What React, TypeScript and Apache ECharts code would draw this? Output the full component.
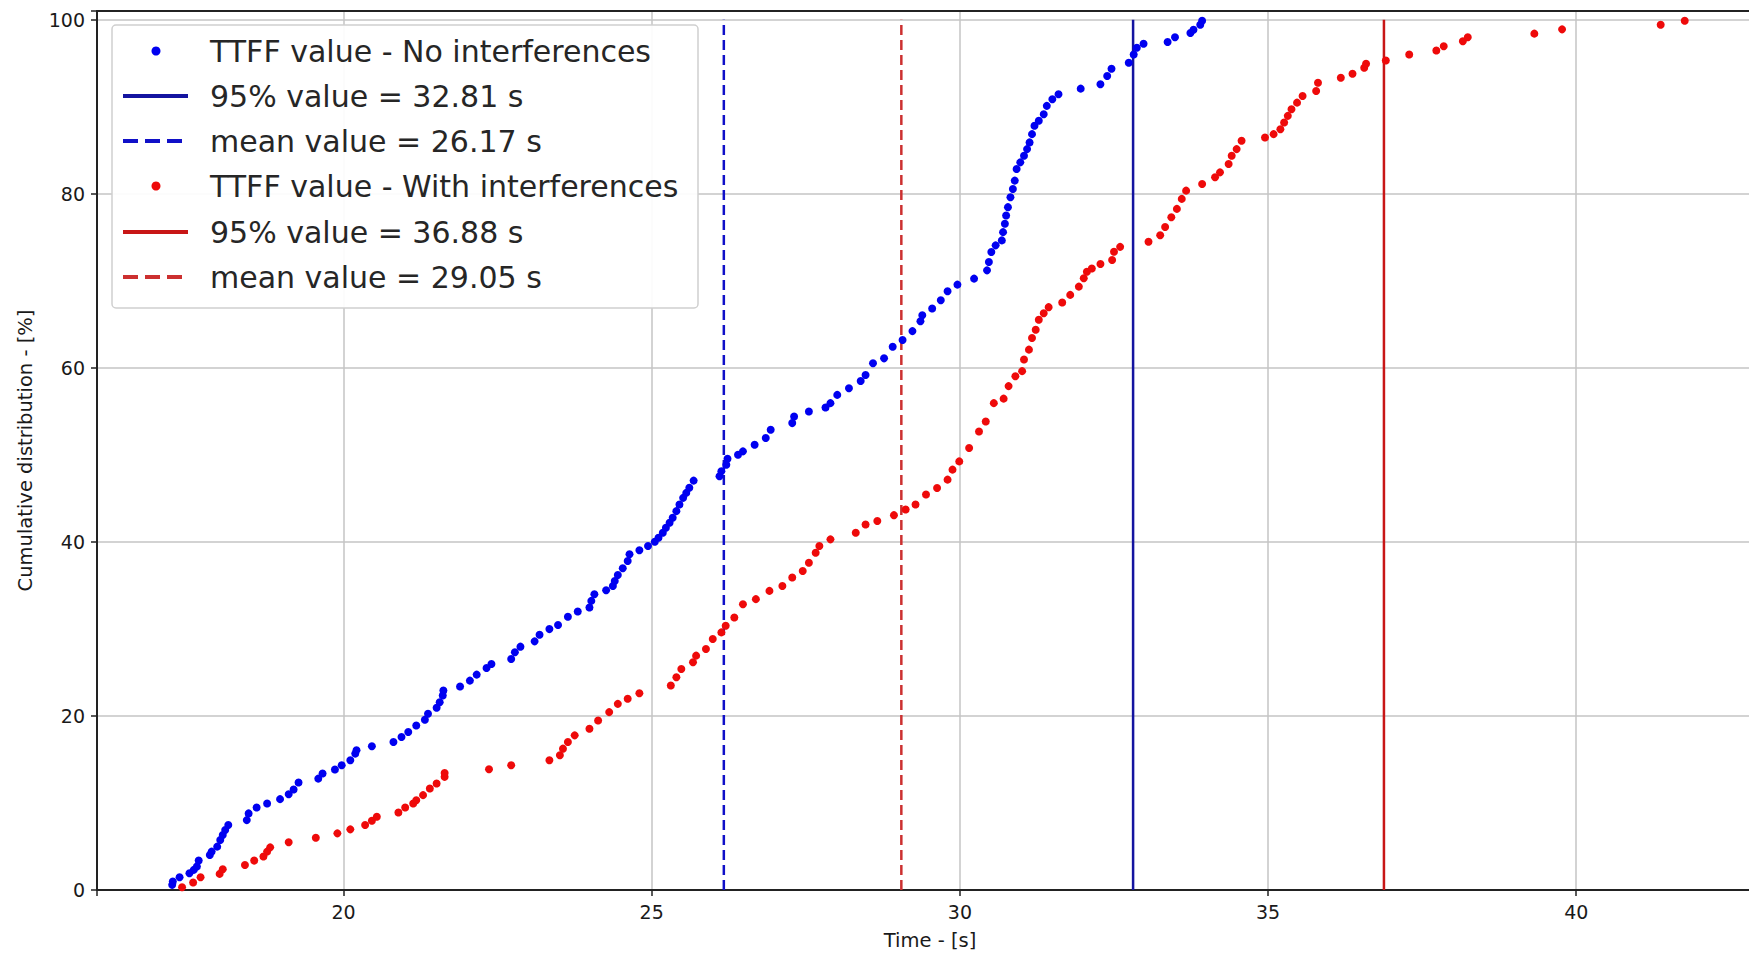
import React, { useEffect, useRef } from "react";
import * as echarts from "echarts";

// ---- Data (time in s, cumulative %) ----
const blueTimes = [
  17.22, 17.23, 17.34, 17.5, 17.57, 17.62, 17.65, 17.83, 17.86, 17.95, 18.0, 18.04, 18.08, 18.13,
  18.43, 18.46, 18.59, 18.76, 18.97, 19.11, 19.19, 19.27, 19.59, 19.66, 19.86, 19.97, 20.11, 20.19,
  20.21, 20.46, 20.81, 20.94, 21.05, 21.18, 21.32, 21.37, 21.51, 21.56, 21.61, 21.62, 21.89, 22.05,
  22.16, 22.32, 22.4, 22.72, 22.78, 22.87, 23.1, 23.18, 23.34, 23.48, 23.64, 23.8, 23.99, 24.02,
  24.07, 24.26, 24.37, 24.4, 24.45, 24.53, 24.61, 24.64, 24.8, 24.94, 25.05, 25.11, 25.18, 25.23,
  25.29, 25.34, 25.4, 25.45, 25.51, 25.56, 25.61, 25.68, 26.1, 26.13, 26.21, 26.23, 26.4, 26.48,
  26.67, 26.85, 26.93, 27.28, 27.31, 27.55, 27.82, 27.9, 28.01, 28.2, 28.39, 28.47, 28.59, 28.77,
  28.91, 29.07, 29.23, 29.36, 29.39, 29.55, 29.69, 29.8, 29.96, 30.23, 30.44, 30.47, 30.51, 30.58,
  30.68, 30.7, 30.73, 30.75, 30.78, 30.82, 30.86, 30.89, 30.92, 30.98, 31.04, 31.09, 31.13, 31.17,
  31.21, 31.28, 31.36, 31.41, 31.5, 31.6, 31.96, 32.28, 32.39, 32.46, 32.74, 32.82, 32.87, 32.98,
  33.37, 33.49, 33.74, 33.79, 33.9, 33.93,
];
const blueCdf = [
  0.59, 0.97, 1.47, 1.93, 2.31, 2.69, 3.38, 4.03, 4.41, 4.98, 5.74, 6.32, 6.89, 7.46,
  8.03, 8.8, 9.48, 9.94, 10.44, 11.01, 11.55, 12.35, 12.8, 13.38, 13.84, 14.33, 14.91, 15.67,
  16.05, 16.51, 17.01, 17.58, 18.15, 18.91, 19.56, 20.25, 20.94, 21.58, 22.35, 22.92, 23.38, 24.06,
  24.75, 25.51, 25.97, 26.55, 27.31, 27.96, 28.57, 29.33, 29.98, 30.44, 31.39, 32.0, 32.46, 33.22,
  33.99, 34.44, 34.94, 35.51, 36.2, 36.97, 37.81, 38.57, 39.03, 39.52, 40.02, 40.48, 41.05, 41.62,
  42.2, 42.77, 43.53, 44.29, 45.06, 45.63, 46.21, 47.04, 47.54, 48.11, 48.87, 49.56, 50.02, 50.4,
  51.16, 51.93, 52.88, 53.65, 54.41, 54.98, 55.44, 55.94, 56.89, 57.65, 58.49, 59.18, 60.52, 61.09,
  62.43, 63.19, 64.22, 65.36, 66.05, 66.81, 67.77, 68.8, 69.56, 70.25, 71.2, 72.16, 73.3, 74.07,
  74.64, 75.59, 76.55, 77.5, 78.46, 79.6, 80.55, 81.51, 82.85, 83.61, 84.37, 85.13, 85.9, 86.85,
  87.81, 88.38, 89.14, 90.1, 90.86, 91.43, 92.08, 92.58, 93.53, 94.37, 95.06, 96.01, 96.78, 97.23,
  97.44, 97.98, 98.47, 98.85, 99.42, 99.88,
];
const redTimes = [
  17.38, 17.56, 17.68, 17.99, 18.04, 18.4, 18.55, 18.7, 18.76, 18.81, 19.11, 19.55, 19.9, 20.11,
  20.35, 20.46, 20.54, 20.89, 21.0, 21.13, 21.18, 21.29, 21.4, 21.51, 21.64, 21.64, 22.36, 22.72,
  23.34, 23.51, 23.56, 23.64, 23.75, 23.99, 24.13, 24.31, 24.45, 24.61, 24.8, 25.31, 25.4, 25.48,
  25.67, 25.72, 25.88, 25.99, 26.13, 26.2, 26.34, 26.48, 26.69, 26.91, 27.12, 27.28, 27.45, 27.55,
  27.66, 27.72, 27.9, 28.31, 28.47, 28.66, 28.93, 29.12, 29.28, 29.45, 29.63, 29.8, 29.88, 29.99,
  30.15, 30.31, 30.42, 30.55, 30.71, 30.79, 30.9, 31.01, 31.04, 31.12, 31.17, 31.23, 31.28, 31.36,
  31.44, 31.66, 31.79, 31.93, 32.01, 32.06, 32.14, 32.28, 32.47, 32.5, 32.6, 33.06, 33.25, 33.33,
  33.43, 33.52, 33.6, 33.67, 33.93, 34.14, 34.22, 34.36, 34.41, 34.49, 34.57, 34.95, 35.09, 35.2,
  35.26, 35.32, 35.38, 35.47, 35.56, 35.78, 35.81, 36.18, 36.37, 36.56, 36.59, 36.91, 37.29, 37.73,
  37.85, 38.16, 38.24, 39.32, 39.77, 41.37, 41.76,
];
const redCdf = [
  0.32, 0.86, 1.47, 1.85, 2.39, 2.88, 3.38, 3.84, 4.41, 4.9, 5.48, 6.01, 6.51, 6.97,
  7.46, 7.96, 8.42, 8.91, 9.48, 9.94, 10.32, 10.9, 11.66, 12.23, 13.0, 13.45, 13.87, 14.33,
  14.9, 15.48, 16.24, 17.0, 17.77, 18.53, 19.48, 20.44, 21.39, 21.97, 22.61, 23.49, 24.45, 25.4,
  26.16, 26.93, 27.69, 28.84, 29.6, 30.36, 31.32, 32.84, 33.42, 34.37, 34.94, 35.9, 36.66, 37.61,
  38.76, 39.52, 40.29, 41.05, 42.0, 42.39, 43.07, 43.72, 44.29, 45.44, 46.2, 47.15, 48.3, 49.25,
  50.78, 52.69, 53.84, 55.94, 56.46, 57.9, 59.04, 59.62, 60.95, 62.09, 63.43, 64.38, 65.52, 66.28,
  66.97, 67.5, 68.38, 69.33, 70.29, 71.04, 71.42, 71.92, 72.38, 73.33, 73.9, 74.48, 75.24, 76.19,
  77.31, 78.26, 79.41, 80.36, 81.13, 81.89, 82.46, 83.42, 84.37, 85.13, 86.09, 86.47, 86.85, 87.42,
  88.19, 88.95, 89.71, 90.47, 91.24, 91.81, 92.76, 93.33, 93.79, 94.48, 94.93, 95.31, 96.0, 96.46,
  96.95, 97.52, 97.98, 98.4, 98.89, 99.42, 99.88,
];

const blueP95 = 32.81;
const blueMean = 26.17;
const redP95 = 36.88;
const redMean = 29.05;

const legendLabels = [
  "TTFF value - No interferences",
  `95% value = ${blueP95.toFixed(2)} s`,
  `mean value = ${blueMean.toFixed(2)} s`,
  "TTFF value - With interferences",
  `95% value = ${redP95.toFixed(2)} s`,
  `mean value = ${redMean.toFixed(2)} s`,
];

const X_MIN = 16.0;
const X_MAX = 43.03;
const Y_MIN = 0;
const Y_MAX = 101;

const FONT = "DejaVu Sans";
const TEXT = "#1a1a1a";

const C_BLUE_PTS = "#0000f0";
const C_RED_PTS = "#ee0a0a";
const C_BLUE_95 = "#1414a0";
const C_BLUE_MEAN = "#1010c8";
const C_RED_95 = "#c81616";
const C_RED_MEAN = "#cc3030";

function zip(xs: number[], ys: number[]) {
  return xs.map((x, i) => [x, ys[i]]);
}

function vline(v: number) {
  return [
    [v, 0],
    [v, 100],
  ];
}

export default function App() {
  const ref = useRef<HTMLDivElement>(null);

  useEffect(() => {
    if (!ref.current) return;
    const chart = echarts.init(ref.current, undefined, { renderer: "svg" });

    const lx1 = 123;
    const lx2 = 188;
    const rowY = [51, 96, 141, 186, 232, 277];
    const textX = 210;

    const legendGraphic: any[] = [
      {
        type: "rect",
        shape: { x: 112, y: 25, width: 586, height: 283, r: 4 },
        style: { fill: "rgba(255,255,255,0.92)", stroke: "#cfcfcf", lineWidth: 1.5 },
        z: 100,
      },
      {
        type: "circle",
        shape: { cx: 156, cy: rowY[0], r: 4.5 },
        style: { fill: C_BLUE_PTS },
        z: 101,
      },
      {
        type: "line",
        shape: { x1: lx1, y1: rowY[1], x2: lx2, y2: rowY[1] },
        style: { stroke: C_BLUE_95, lineWidth: 4 },
        z: 101,
      },
      {
        type: "line",
        shape: { x1: lx1, y1: rowY[2], x2: lx2, y2: rowY[2] },
        style: { stroke: C_BLUE_MEAN, lineWidth: 4, lineDash: [15, 7] },
        z: 101,
      },
      {
        type: "circle",
        shape: { cx: 156, cy: rowY[3], r: 4.5 },
        style: { fill: C_RED_PTS },
        z: 101,
      },
      {
        type: "line",
        shape: { x1: lx1, y1: rowY[4], x2: lx2, y2: rowY[4] },
        style: { stroke: C_RED_95, lineWidth: 4 },
        z: 101,
      },
      {
        type: "line",
        shape: { x1: lx1, y1: rowY[5], x2: lx2, y2: rowY[5] },
        style: { stroke: C_RED_MEAN, lineWidth: 4, lineDash: [15, 7] },
        z: 101,
      },
      ...legendLabels.map((t, i) => ({
        type: "text",
        x: textX,
        y: rowY[i],
        z: 101,
        style: {
          text: t,
          fontSize: 30,
          fontFamily: FONT,
          fill: "#262626",
          verticalAlign: "middle",
          align: "left",
        },
      })),
    ];

    const axisLabelFmt = (step: number) => (v: number) =>
      Math.abs(v / step - Math.round(v / step)) < 1e-6 ? String(Math.round(v)) : "";

    chart.setOption({
      animation: false,
      backgroundColor: "#ffffff",
      grid: { left: 97, top: 11, right: 0, bottom: 61.7, containLabel: false },
      xAxis: [
        {
          type: "value",
          min: X_MIN,
          max: X_MAX,
          name: "Time - [s]",
          nameLocation: "middle",
          nameGap: 40,
          nameTextStyle: { fontSize: 19.5, fontFamily: FONT, color: TEXT },
          axisLine: { show: true, onZero: false, lineStyle: { color: "#222", width: 2 } },
          axisTick: { show: true, length: 6, lineStyle: { color: "#222", width: 1.5 } },
          axisLabel: {
            fontSize: 19,
            fontFamily: FONT,
            color: TEXT,
            margin: 12,
            formatter: axisLabelFmt(5),
          },
          splitLine: { show: true, lineStyle: { color: "#c4c4c4", width: 1.5 } },
        },
        {
          type: "value",
          position: "top",
          min: X_MIN,
          max: X_MAX,
          axisLine: { show: true, onZero: false, lineStyle: { color: "#222", width: 2 } },
          axisTick: { show: false },
          axisLabel: { show: false },
          splitLine: { show: false },
        },
      ],
      yAxis: [
        {
          type: "value",
          min: Y_MIN,
          max: Y_MAX,
          name: "Cumulative distribution - [%]",
          nameLocation: "middle",
          nameRotate: 90,
          nameGap: 62,
          nameTextStyle: { fontSize: 19.5, fontFamily: FONT, color: TEXT },
          axisLine: { show: true, onZero: false, lineStyle: { color: "#222", width: 2 } },
          axisTick: { show: true, length: 6, lineStyle: { color: "#222", width: 1.5 } },
          axisLabel: {
            fontSize: 19,
            fontFamily: FONT,
            color: TEXT,
            margin: 12,
            formatter: axisLabelFmt(20),
          },
          splitLine: { show: true, lineStyle: { color: "#c4c4c4", width: 1.5 } },
        },
      ],
      series: [
        {
          name: "TTFF value - No interferences",
          type: "scatter",
          data: zip(blueTimes, blueCdf),
          symbol: "circle",
          symbolSize: 8,
          itemStyle: { color: C_BLUE_PTS, opacity: 1 },
          z: 3,
        },
        {
          name: "95% blue",
          type: "line",
          data: vline(blueP95),
          showSymbol: false,
          symbol: "none",
          lineStyle: { color: C_BLUE_95, width: 2.5 },
          z: 2,
        },
        {
          name: "mean blue",
          type: "line",
          data: vline(blueMean),
          showSymbol: false,
          symbol: "none",
          lineStyle: { color: C_BLUE_MEAN, width: 2.5, type: [10, 5] },
          z: 2,
        },
        {
          name: "TTFF value - With interferences",
          type: "scatter",
          data: zip(redTimes, redCdf),
          symbol: "circle",
          symbolSize: 8,
          itemStyle: { color: C_RED_PTS, opacity: 1 },
          z: 3,
        },
        {
          name: "95% red",
          type: "line",
          data: vline(redP95),
          showSymbol: false,
          symbol: "none",
          lineStyle: { color: C_RED_95, width: 2.5 },
          z: 2,
        },
        {
          name: "mean red",
          type: "line",
          data: vline(redMean),
          showSymbol: false,
          symbol: "none",
          lineStyle: { color: C_RED_MEAN, width: 2.5, type: [10, 5] },
          z: 2,
        },
      ],
      graphic: legendGraphic,
    });

    return () => {
      chart.dispose();
    };
  }, []);

  return (
    <div
      style={{
        position: "fixed",
        left: 0,
        top: 0,
        width: 1749,
        height: 955,
        overflow: "hidden",
        background: "#fff",
      }}
    >
      <div ref={ref} style={{ width: 1766, height: 955 }} />
    </div>
  );
}
